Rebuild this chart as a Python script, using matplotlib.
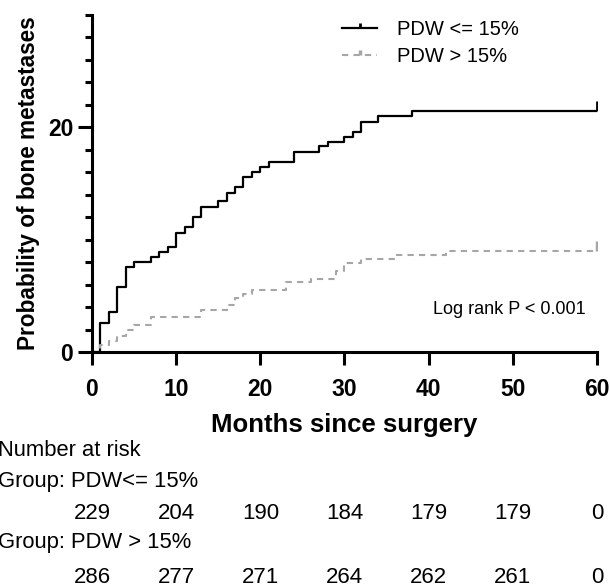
import matplotlib
matplotlib.use("Agg")
import matplotlib.pyplot as plt
import matplotlib.transforms as mtransforms
from matplotlib.path import Path
from matplotlib.ticker import MultipleLocator

plt.rcParams['font.family'] = ['Liberation Sans', 'DejaVu Sans']

# cumulative probability (%) of bone metastases
low_months = [0, 1, 2, 3, 4, 5, 7, 8, 9, 10, 11, 12, 13, 15, 16, 17, 18, 19, 20, 21,
              24, 27, 28, 30, 31, 32, 34, 38, 60]
low_prob = [0, 2.6, 3.55, 5.8, 7.55, 8.0, 8.45, 8.9, 9.35, 10.6, 11.1, 12.0, 12.9, 13.4,
            14.2, 14.7, 15.6, 16.0, 16.5, 16.9, 17.8, 18.3, 18.7, 19.1, 19.6, 20.5, 21.0,
            21.5, 21.5]

high_months = [0, 1, 2, 3, 4, 5, 7, 13, 16, 17, 18, 19, 23, 26, 29, 30, 32, 36, 42, 60]
high_prob = [0, 0.6, 1.0, 1.4, 2.0, 2.4, 3.1, 3.75, 4.2, 4.8, 5.2, 5.55, 6.2, 6.5, 7.2,
             7.95, 8.3, 8.6, 9.0, 9.0]

risk_times = [0, 10, 20, 30, 40, 50, 60]
risk_low = [229, 204, 190, 184, 179, 179, 0]
risk_high = [286, 277, 271, 264, 262, 261, 0]

# censor tick that rises from the line
tick_up = Path([(0, 0), (0, 1)])

fig = plt.figure(figsize=(6.10, 5.87), dpi=100)
ax = fig.add_axes([0.1508, 0.4003, 0.8279, 0.5741])

ax.step(low_months, low_prob, where='post', color='black', lw=1.6,
        marker=tick_up, markersize=14, markeredgewidth=2, markevery=[-1],
        label='PDW <= 15%')
ax.step(high_months, high_prob, where='post', color='#a6a6a6', lw=1.5,
        linestyle=(0, (3, 2.5)), marker=tick_up, markersize=14, markeredgewidth=2.5,
        markevery=[-1], label='PDW > 15%')

ax.set_xlim(0, 60)
ax.set_ylim(0, 30)
ax.xaxis.set_major_locator(MultipleLocator(10))
ax.yaxis.set_major_locator(MultipleLocator(20))
ax.yaxis.set_minor_locator(MultipleLocator(2))

for side in ['top', 'right']:
    ax.spines[side].set_visible(False)
for side in ['left', 'bottom']:
    ax.spines[side].set_linewidth(2.2)

ax.tick_params(axis='x', which='major', length=9.5, width=2.2, pad=9, labelsize=16.5)
ax.tick_params(axis='y', which='major', length=10, width=2.2, pad=3.5, labelsize=16.5)
ax.tick_params(axis='y', which='minor', length=5, width=2.2)
for lab in ax.get_xticklabels() + ax.get_yticklabels():
    lab.set_fontweight('bold')

ax.set_xlabel('Months since surgery', fontsize=18.5, fontweight='bold', labelpad=9)
ax.set_ylabel('Probability of bone metastases', fontsize=16.3, fontweight='bold', labelpad=6)

ax.legend(loc='upper left', bbox_to_anchor=(0.495, 0.985), frameon=False, fontsize=14.5,
          handlelength=1.75, handletextpad=1.0, labelspacing=0.4, borderpad=0,
          borderaxespad=0, markerscale=0.5)

ax.text(0.675, 0.125, 'Log rank P < 0.001', transform=ax.transAxes, fontsize=13,
        va='center', ha='left')

# number at risk table
trans = mtransforms.blended_transform_factory(ax.transData, fig.transFigure)
fig.text(-0.003, 0.232, 'Number at risk', fontsize=15.8, va='center', ha='left')
fig.text(-0.003, 0.179, 'Group: PDW<= 15%', fontsize=15.8, va='center', ha='left')
fig.text(-0.003, 0.075, 'Group: PDW > 15%', fontsize=15.8, va='center', ha='left')
for t, n1, n2 in zip(risk_times, risk_low, risk_high):
    ax.text(t, 0.126, str(n1), transform=trans, fontsize=16, ha='center', va='center',
            clip_on=False)
    ax.text(t, 0.017, str(n2), transform=trans, fontsize=16, ha='center', va='center',
            clip_on=False)

fig.savefig('out.png', dpi=100)
